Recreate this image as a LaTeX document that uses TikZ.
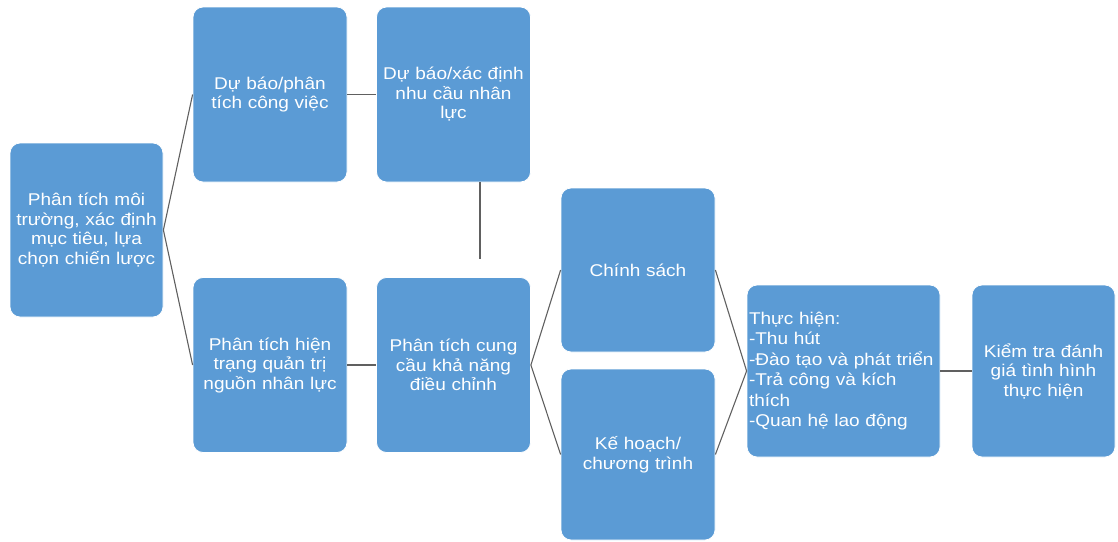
\documentclass[tikz,border=0pt]{standalone}
\usepackage{fontspec}
\setmainfont{Liberation Sans}
\newfontfamily\boxfont[FakeStretch=1.12]{Liberation Sans}
\usetikzlibrary{positioning}

\definecolor{boxblue}{HTML}{5B9BD5}

\begin{document}
\begin{tikzpicture}[
      x=1pt, y=1pt,
      base/.style={draw=white, line width=0.8pt, rounded corners=10pt, fill=boxblue, text=white, align=center, inner sep=3pt, font=\boxfont\fontsize{17}{19.5}\selectfont},
      col/.style={base, minimum width=154pt, minimum height=175pt, text width=148pt},
      ln/.style={draw=gray!75!black, line width=1.1pt}
    ]
    \useasboundingbox (0,0) rectangle (1118,-541);

    % ---- Cot 1 ----
    \node[base, minimum width=153pt, minimum height=174pt, text width=147pt] (env) at (86.5,-230) {Phân tích môi\\trường, xác định\\mục tiêu, lựa\\chọn chiến lược};

    % ---- Cot 2 & 3: hai hang ----
    \node[col] (fore)   at (270,-94.5)  {Dự báo/phân\\tích công việc};
    \node[col] (need)   at (453.5,-94.5) {Dự báo/xác định\\nhu cầu nhân\\lực};
    \node[col] (now)    at (270,-365)   {Phân tích hiện\\trạng quản trị\\nguồn nhân lực};
    \node[col] (supply) at (453.5,-365) {Phân tích cung\\cầu khả năng\\điều chỉnh};

    % ---- Cot 4 ----
    \node[base, minimum width=154pt, minimum height=164pt, text width=148pt] (policy) at (638,-270) {Chính sách};
    \node[base, minimum width=154pt, minimum height=171pt, text width=148pt] (plan)   at (638,-454.5) {Kế hoạch/\\chương trình};

    % ---- Cot 5 & 6 ----
    \node[base, align=left, font=\boxfont\fontsize{17}{20.5}\selectfont, minimum width=193pt, minimum height=172pt, text width=189pt, inner sep=2pt] (impl) at (843.5,-371)
      {Thực hiện:\\-Thu hút\\-Đào tạo và phát triển\\-Trả công và kích\\thích\\-Quan hệ lao động};
    \node[base, minimum width=143pt, minimum height=172pt, text width=137pt] (check) at (1043.5,-371) {Kiểm tra đánh\\giá tình hình\\thực hiện};

    % ---- Duong noi ----
    \draw[ln] (env.east) -- (fore.west);
    \draw[ln] (env.east) -- (now.west);
    \draw[ln] (fore) -- (need);
    \draw[ln] (now) -- (supply);
    \draw[ln, shorten >=18pt] ([xshift=26.5pt]need.south) -- ([xshift=26.5pt]supply.north);
    \draw[ln] (supply.east) -- (policy.west);
    \draw[ln] (supply.east) -- (plan.west);
    \draw[ln] (policy.east) -- (impl.west);
    \draw[ln] (plan.east) -- (impl.west);
    \draw[ln] (impl) -- (check);

    \end{tikzpicture}
\end{document}
